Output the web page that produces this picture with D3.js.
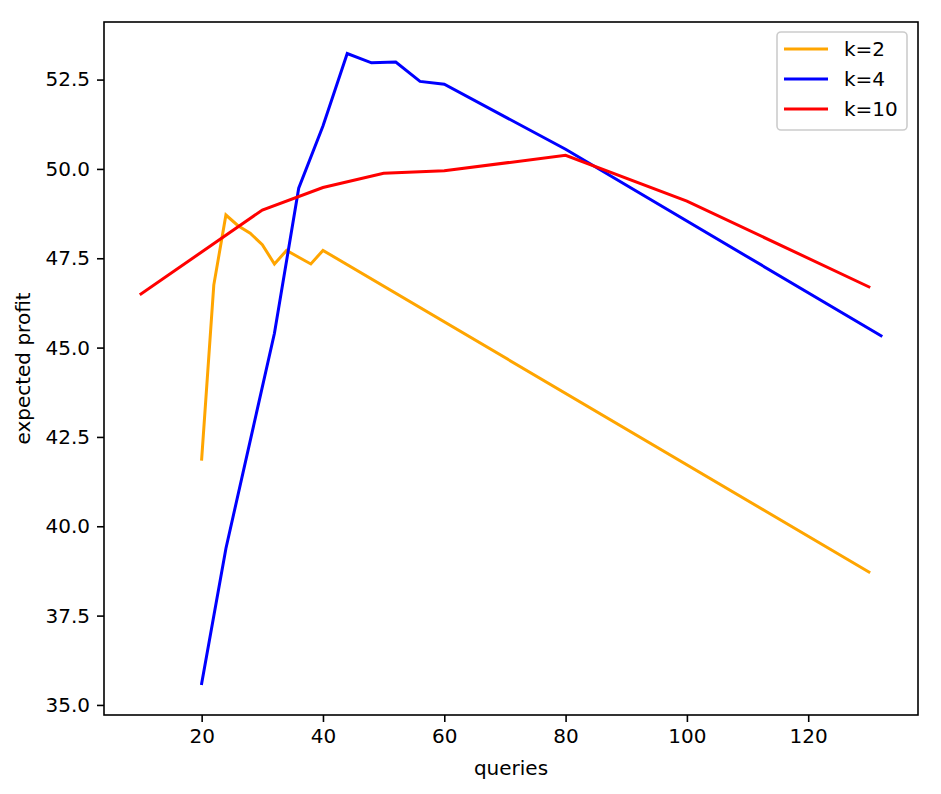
<!DOCTYPE html>
<html>
<head>
<meta charset="utf-8">
<script src="https://cdn.jsdelivr.net/npm/d3@7"></script>
<style>
  body { margin: 0; background: #fff; }
  text { font-family: "DejaVu Sans", sans-serif; fill: #000; }
</style>
</head>
<body>
<svg id="chart" width="941" height="794"></svg>
<script>
// values
const queriesK2 = [20, 22, 24, 26, 28, 30, 32, 34, 36, 38, 40, 130];
const profitK2 = [41.88, 46.75, 48.71, 48.41, 48.2, 47.88, 47.34, 47.72, 47.53, 47.34, 47.72, 38.72];

const queriesK4 = [20, 24, 32, 36, 40, 44, 48, 52, 56, 60, 80, 132];
const profitK4 = [35.6, 39.38, 45.4, 49.46, 51.2, 53.23, 52.97, 52.99, 52.45, 52.37, 50.55, 45.33];

const queriesK10 = [10, 30, 40, 50, 60, 80, 100, 130];
const profitK10 = [46.5, 48.85, 49.48, 49.88, 49.95, 50.38, 49.1, 46.7];

const seriesNames = ["k=2", "k=4", "k=10"];
const seriesColors = ["orange", "blue", "red"];
const xTicks = [20, 40, 60, 80, 100, 120];
const yTicks = [35, 37.5, 40, 42.5, 45, 47.5, 50, 52.5];

const series = [
  { name: seriesNames[0], color: seriesColors[0], pts: queriesK2.map((q, i) => [q, profitK2[i]]) },
  { name: seriesNames[1], color: seriesColors[1], pts: queriesK4.map((q, i) => [q, profitK4[i]]) },
  { name: seriesNames[2], color: seriesColors[2], pts: queriesK10.map((q, i) => [q, profitK10[i]]) }
];

const plotLeft = 104, plotRight = 918, plotTop = 22, plotBottom = 715;
const svg = d3.select("#chart");

// matplotlib style 5% margins
function padded(vals) {
  const [a, b] = d3.extent(vals);
  const m = (b - a) * 0.05;
  return [a - m, b + m];
}
const allX = series.flatMap(s => s.pts.map(p => p[0]));
const allY = series.flatMap(s => s.pts.map(p => p[1]));

const x = d3.scaleLinear().domain(padded(allX)).range([plotLeft, plotRight]);
const y = d3.scaleLinear().domain(padded(allY)).range([plotBottom, plotTop]);

const xAxis = svg.append("g")
  .attr("transform", `translate(0,${plotBottom})`)
  .call(d3.axisBottom(x).tickValues(xTicks).tickSize(7).tickPadding(7).tickFormat(d3.format("d")));
const yAxis = svg.append("g")
  .attr("transform", `translate(${plotLeft},0)`)
  .call(d3.axisLeft(y).tickValues(yTicks).tickSize(7).tickPadding(7).tickFormat(d3.format(".1f")));

[xAxis, yAxis].forEach(g => {
  g.select(".domain").remove();
  g.selectAll(".tick line").attr("stroke", "#000").attr("stroke-width", 1.6);
  g.selectAll(".tick text").style("font-size", "20px").attr("fill", "#000");
});

const line = d3.line().x(d => x(d[0])).y(d => y(d[1]));

svg.append("g")
  .selectAll("path")
  .data(series)
  .join("path")
  .attr("d", d => line(d.pts))
  .attr("fill", "none")
  .attr("stroke", d => d.color)
  .attr("stroke-width", 3)
  .attr("stroke-linejoin", "miter")
  .attr("stroke-linecap", "square");

// frame
svg.append("rect")
  .attr("x", plotLeft).attr("y", plotTop)
  .attr("width", plotRight - plotLeft).attr("height", plotBottom - plotTop)
  .attr("fill", "none").attr("stroke", "#000").attr("stroke-width", 1.6);

// axis labels
svg.append("text")
  .attr("x", (plotLeft + plotRight) / 2).attr("y", 775)
  .attr("text-anchor", "middle")
  .style("font-size", "20px")
  .text("queries");

svg.append("text")
  .attr("transform", `translate(30,${(plotTop + plotBottom) / 2}) rotate(-90)`)
  .attr("text-anchor", "middle")
  .style("font-size", "20px")
  .text("expected profit");

// legend
const legend = svg.append("g");
legend.append("rect")
  .attr("x", 777).attr("y", 32)
  .attr("width", 130).attr("height", 98)
  .attr("rx", 4)
  .attr("fill", "#fff").attr("fill-opacity", 0.8)
  .attr("stroke", "#ccc").attr("stroke-width", 1.6);

const item = legend.selectAll("g.item")
  .data(series)
  .join("g")
  .attr("class", "item")
  .attr("transform", (d, i) => `translate(0,${49 + i * 30})`);

item.append("line")
  .attr("x1", 784).attr("x2", 828)
  .attr("stroke", d => d.color)
  .attr("stroke-width", 3);

item.append("text")
  .attr("x", 844).attr("y", 7)
  .style("font-size", "20px")
  .text(d => d.name);
</script>
</body>
</html>
